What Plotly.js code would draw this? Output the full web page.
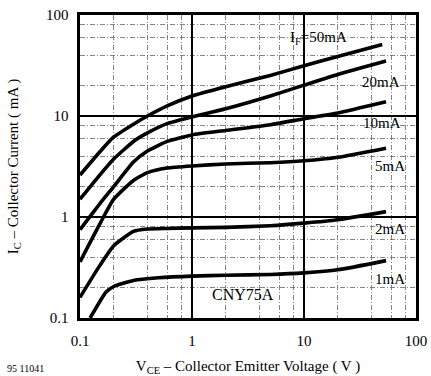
<!DOCTYPE html>
<html><head><meta charset="utf-8">
<script src="https://cdn.plot.ly/plotly-3.0.1.min.js"></script>
<style>html,body{margin:0;padding:0;background:#fff}</style>
</head><body>
<div id="chart" style="width:431px;height:376px"></div>
<script>
// Forward current curves: V_CE (V) and I_C (mA)
const vce50 = [0.1, 0.15, 0.2, 0.3, 0.4, 0.6, 1, 2, 5, 10, 20, 50];
const ic50  = [2.6, 4.4, 6.2, 8.3, 10, 12.6, 15.8, 19.5, 25.2, 31.5, 38.8, 51];

const vce20 = [0.1, 0.15, 0.2, 0.3, 0.4, 0.6, 1, 2, 5, 10, 20, 54];
const ic20  = [1.5, 2.6, 3.75, 5.6, 6.8, 8.4, 9.8, 11.8, 15.8, 20.2, 25.8, 35];

const vce10 = [0.1, 0.15, 0.2, 0.3, 0.4, 0.6, 1, 2, 5, 10, 20, 54];
const ic10  = [0.75, 1.35, 2.0, 3.5, 4.5, 5.6, 6.5, 7.2, 8.2, 9.4, 10.7, 13.8];

const vce5 = [0.1, 0.15, 0.2, 0.3, 0.4, 0.6, 1, 2, 5, 10, 20, 54];
const ic5  = [0.36, 0.85, 1.5, 2.3, 2.75, 3.05, 3.2, 3.35, 3.45, 3.6, 3.9, 4.8];

const vce2 = [0.1, 0.15, 0.2, 0.3, 0.4, 0.6, 1, 2, 5, 10, 20, 54];
const ic2  = [0.16, 0.33, 0.52, 0.72, 0.76, 0.77, 0.78, 0.79, 0.82, 0.87, 0.94, 1.13];

const vce1 = [0.123, 0.15, 0.17, 0.2, 0.3, 0.5, 1, 2, 5, 10, 20, 54];
const ic1  = [0.1, 0.145, 0.18, 0.205, 0.235, 0.25, 0.26, 0.265, 0.27, 0.28, 0.3, 0.37];

const curveLabels = ['I<sub>F</sub>=50mA', '20mA', '10mA', '5mA', '2mA', '1mA'];
const majorTicks = [0.1, 1, 10, 100];
const majorTickText = ['0.1', '1', '10', '100'];
const minorMultipliers = [2, 4, 6, 8];
const deviceName = 'CNY75A';
const figureId = '95 11041';

const minorTicks = [];
[0.1, 1, 10].forEach(d => minorMultipliers.forEach(m => minorTicks.push(+(d * m).toPrecision(3))));

const serif = 'Liberation Serif, Times New Roman, serif';
const sets = [[vce50, ic50], [vce20, ic20], [vce10, ic10], [vce5, ic5], [vce2, ic2], [vce1, ic1]];
const traces = sets.map((s, i) => ({
  x: s[0], y: s[1], type: 'scatter', mode: 'lines', name: curveLabels[i],
  line: {color: '#000', width: 3.6, shape: 'spline', smoothing: 0.5},
  showlegend: false, hoverinfo: 'skip'
}));

const axisCommon = {
  type: 'log', range: [-1, 2], tickvals: majorTicks, ticktext: majorTickText,
  showgrid: true, gridcolor: '#000', gridwidth: 1.4,
  showline: true, mirror: true, linecolor: '#000', linewidth: 2.6,
  ticks: '', zeroline: false, fixedrange: true,
  tickfont: {family: serif, size: 15, color: '#000'},
  minor: {tickvals: minorTicks, showgrid: true, gridcolor: '#666', gridwidth: 0.8, griddash: '5px,2px,1px,2px', ticks: ''}
};

// label positions (log10 of data coords)
const annPos = [[1.125, 1.772], [1.6875, 1.337], [1.696, 0.931], [1.768, 0.505], [1.768, -0.119], [1.77, -0.614]];
const annotations = curveLabels.map((t, i) => ({
  x: annPos[i][0], y: annPos[i][1], xref: 'x', yref: 'y', text: t, showarrow: false,
  xanchor: 'center', yanchor: 'middle',
  font: {family: serif, size: 15, color: '#000'}
}));
annotations.push({x: 0.455, y: -0.772, xref: 'x', yref: 'y', text: deviceName, showarrow: false,
  xanchor: 'center', yanchor: 'middle',
  font: {family: serif, size: 16, color: '#000'}});
annotations.push({
  x: (26 - 80) / 336, y: -(368 - 318) / 303, xref: 'paper', yref: 'paper', text: figureId, showarrow: false,
  xanchor: 'center', yanchor: 'middle',
  font: {family: serif, size: 10, color: '#000'}
});

const layout = {
  width: 431, height: 376,
  margin: {l: 80, r: 15, t: 15, b: 58, autoexpand: false},
  paper_bgcolor: '#fff', plot_bgcolor: '#fff',
  xaxis: Object.assign({}, axisCommon, {
    ticklabelstandoff: 7,
    title: {text: 'V<sub>CE</sub> – Collector Emitter Voltage ( V )', font: {family: serif, size: 15, color: '#000'}, standoff: 14}
  }),
  yaxis: Object.assign({}, axisCommon, {
    ticklabelstandoff: 6,
    title: {text: 'I<sub>C</sub> – Collector Current ( mA )', font: {family: serif, size: 15, color: '#000'}, standoff: 24}
  }),
  annotations: annotations
};

Plotly.newPlot('chart', traces, layout, {staticPlot: true, displayModeBar: false});
</script>
</body></html>
